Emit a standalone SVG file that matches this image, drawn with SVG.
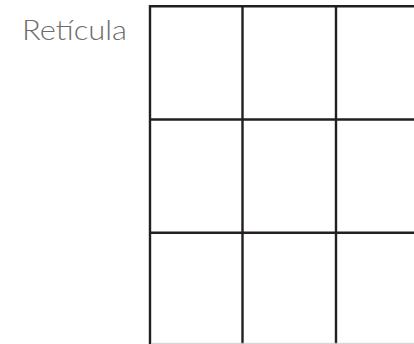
<svg xmlns="http://www.w3.org/2000/svg" width="414" height="344" viewBox="0 0 414 344">
<style>
.g{stroke:#231f20;stroke-width:2.4;fill:none}
.t{font-family:"Lato","Open Sans","Liberation Sans",sans-serif;font-weight:300;font-size:27px;fill:#6d6d6d}
</style>
<rect width="414" height="344" fill="#ffffff"/>
<g id="label"><text class="t" x="22" y="40" textLength="105" lengthAdjust="spacingAndGlyphs">Retícula</text></g>
<g id="grid">
<line class="g" x1="150" y1="6.3" x2="414" y2="6.3"/>
<line class="g" x1="150" y1="119.5" x2="414" y2="119.5"/>
<line class="g" x1="150" y1="232.8" x2="414" y2="232.8"/>
<line class="g" x1="150" y1="5.1" x2="150" y2="344"/>
<line class="g" x1="242.5" y1="5.1" x2="242.5" y2="344"/>
<line class="g" x1="336" y1="5.1" x2="336" y2="344"/>
<line x1="151.5" y1="343.3" x2="414" y2="343.3" stroke="#d0d0d0" stroke-width="1"/>
</g>
</svg>
